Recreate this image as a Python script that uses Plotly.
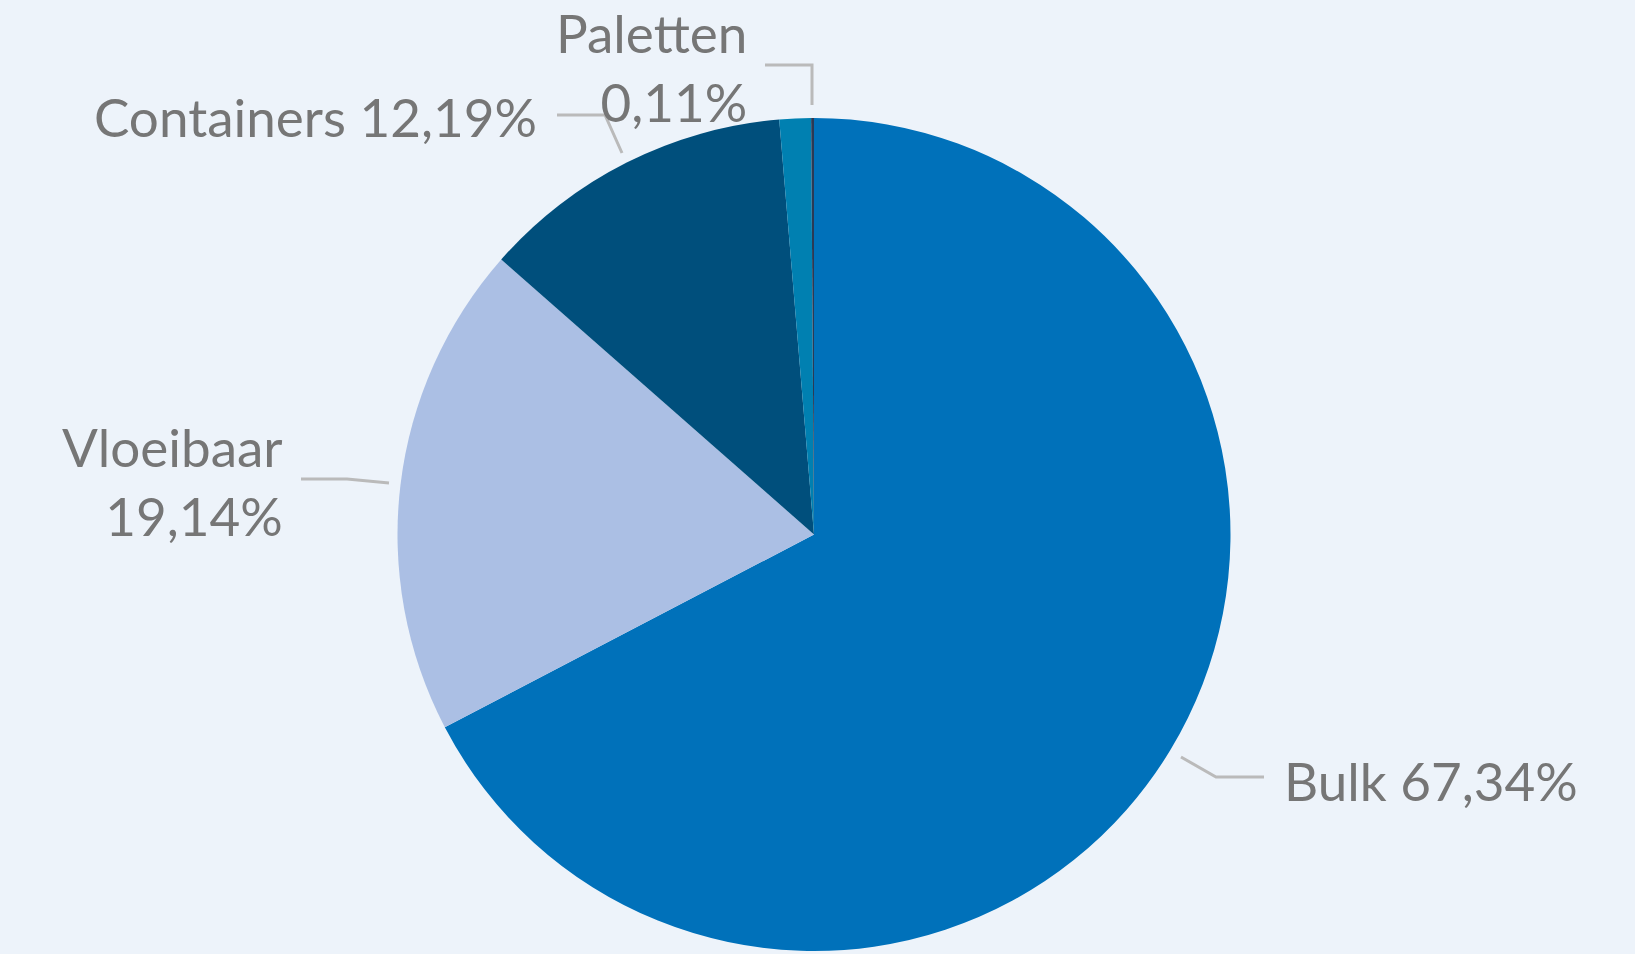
import plotly.graph_objects as go

W, H = 1635, 954

# slice data, clockwise from 12 o'clock
labels = ['Bulk', 'Vloeibaar', 'Containers', 'Overig', 'Paletten']
values = [67.34, 19.14, 12.19, 1.22, 0.11]
colors = ['#0071ba', '#abbfe4', '#004f7c', '#0080b1', '#2b3a55']

# which slices get an outside label, and how the text is broken
label_lines = {
    'Bulk': '{name} {pct}',
    'Vloeibaar': '{name}<br>{pct}',
    'Containers': '{name} {pct}',
    'Paletten': '{name}<br>{pct}',
}


def px(x, y):
    # pixel (from top-left) to paper coords
    return x / W, 1 - y / H


def fmt_pct(v):
    return f'{v:.2f}%'.replace('.', ',')


fig = go.Figure()

fig.add_trace(go.Pie(
    labels=labels,
    values=values,
    sort=False,
    direction='clockwise',
    rotation=0,
    textinfo='none',
    marker=dict(colors=colors, line=dict(width=0)),
    domain=dict(x=[397 / W, 1231 / W], y=[3 / H, 836 / H]),
    showlegend=False,
    hovertemplate='%{label}: %{value}%<extra></extra>'
))

# label placement (text anchor point, alignment) and leader line paths, in pixels
label_pos = {
    'Bulk': (1282, 780, 'left'),
    'Vloeibaar': (285, 481, 'right'),
    'Containers': (539, 117, 'right'),
    'Paletten': (749, 67, 'right'),
}
leaders = {
    'Bulk': [(1181, 757), (1216, 777), (1264, 777)],
    'Vloeibaar': [(301, 479), (347, 479), (389, 483)],
    'Containers': [(557, 115), (605, 115), (622, 153)],
    'Paletten': [(765, 65), (812, 65), (812, 105)],
}

for name, v in zip(labels, values):
    if name not in label_lines:
        continue
    x, y, align = label_pos[name]
    ax, ay = px(x, y)
    fig.add_annotation(
        x=ax, y=ay, xref='paper', yref='paper',
        text=label_lines[name].format(name=name, pct=fmt_pct(v)),
        showarrow=False,
        xanchor=align, yanchor='middle', align=align,
        font=dict(family='Lato', size=53, color='#767676')
    )
    pts = leaders[name]
    path = 'M ' + ' L '.join(f'{p[0] / W:.5f},{1 - p[1] / H:.5f}' for p in pts)
    fig.add_shape(type='path', path=path, xref='paper', yref='paper',
                  line=dict(color='#bababa', width=3))

fig.update_layout(
    width=W, height=H,
    paper_bgcolor='#edf3fa',
    plot_bgcolor='#edf3fa',
    margin=dict(t=0, l=0, r=0, b=0),
)

# drop the default page margin so the figure sits at the window corner
fig.write_html('out.html', config={'displayModeBar': False},
               post_script="document.body.style.margin='0';")
